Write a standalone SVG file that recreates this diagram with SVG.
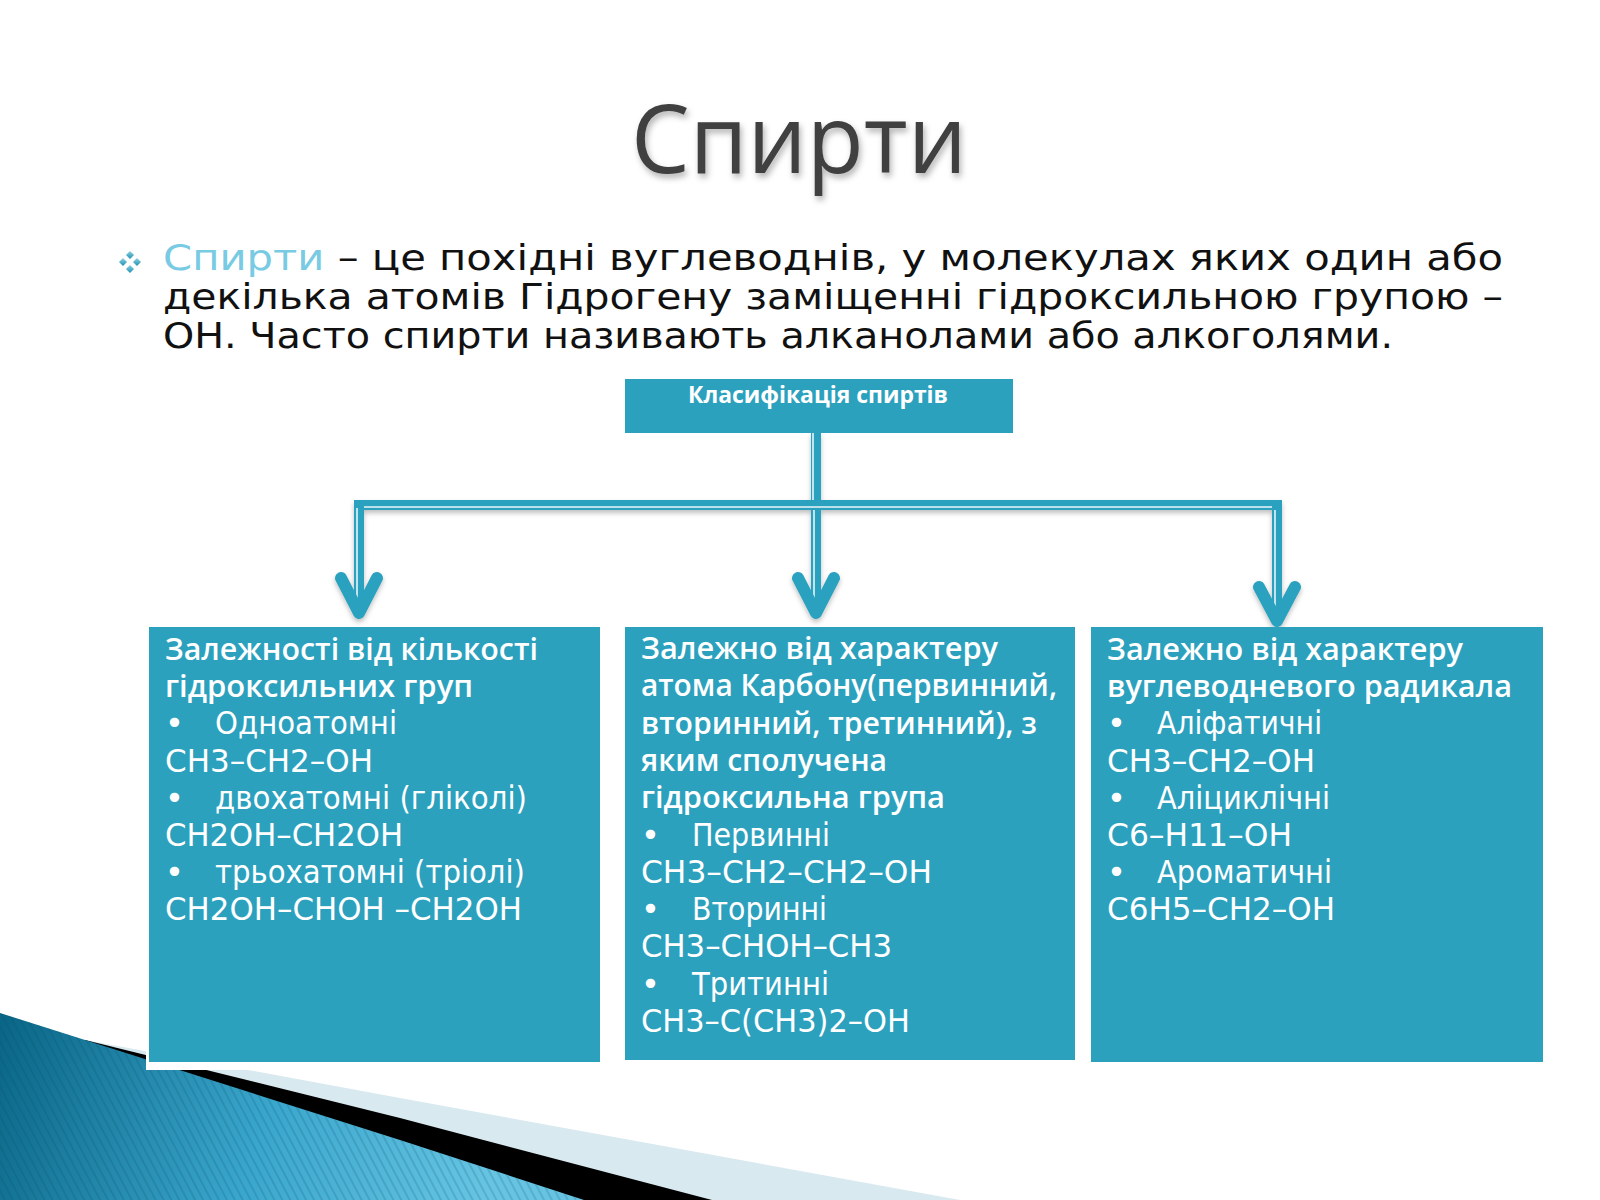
<svg xmlns="http://www.w3.org/2000/svg" width="1600" height="1200" viewBox="0 0 1600 1200">
<defs>
<style>
.box{fill:#2CA1BE}
.hdr{font-family:"Open Sans","DejaVu Sans",sans-serif;font-weight:600;font-size:30px;fill:#ffffff}
.itm{font-family:"DejaVu Sans","Liberation Sans",sans-serif;font-size:32px;fill:#ffffff}
.body{font-family:"DejaVu Sans","Liberation Sans",sans-serif;font-size:36px;fill:#111111}
.conn{stroke:#2CA1BE;stroke-width:10;fill:none}
.stripe{stroke:#e8f6fa;stroke-width:1.6;fill:none}
.chev{stroke:#2CA1BE;stroke-width:12;fill:none;stroke-linecap:round;stroke-linejoin:round}
</style>
<filter id="tsh" x="-10%" y="-10%" width="130%" height="140%">
<feDropShadow dx="2" dy="4" stdDeviation="3" flood-color="#000" flood-opacity="0.3"/>
</filter>
<filter id="csh" x="-10%" y="-20%" width="130%" height="160%">
<feDropShadow dx="0" dy="3" stdDeviation="2.5" flood-color="#000" flood-opacity="0.25"/>
</filter>
<linearGradient id="wedge" gradientUnits="userSpaceOnUse" x1="0" y1="1030" x2="480" y2="1200">
<stop offset="0" stop-color="#0A6686"/>
<stop offset="0.55" stop-color="#3AA6CC"/>
<stop offset="1" stop-color="#66C4E2"/>
</linearGradient>
<pattern id="lines" patternUnits="userSpaceOnUse" width="7" height="7" patternTransform="rotate(-28)">
<rect x="0" y="0" width="2" height="7" fill="#06506a" fill-opacity="0.18"/>
</pattern>
<linearGradient id="dia" x1="0" y1="0" x2="0" y2="1">
<stop offset="0" stop-color="#8fd3e6"/>
<stop offset="1" stop-color="#1f8fb0"/>
</linearGradient>
</defs>
<rect x="0" y="0" width="1600" height="1200" fill="#ffffff"/>

<g id="decoration">
<polygon points="85,1040 400,1098 960,1200 85,1200" fill="#D8E9F0"/>
<polygon points="85,1040 400,1118 712,1200 85,1200" fill="#000000"/>
<polygon points="0,1013 400,1140 584,1200 0,1200" fill="url(#wedge)"/>
<polygon points="0,1013 400,1140 584,1200 0,1200" fill="url(#lines)"/>
</g>

<g id="title">
<text x="631" y="173" font-family="'Open Sans','DejaVu Sans',sans-serif" font-size="95" fill="#3F3F3F" textLength="336" lengthAdjust="spacingAndGlyphs" filter="url(#tsh)">Спирти</text>
</g>

<g id="definition">
<g id="bullet-icon" fill="url(#dia)">
<polygon points="130,251 134,255 130,259 126,255"/>
<polygon points="130,265 134,269 130,273 126,269"/>
<polygon points="123,258 127,262 123,266 119,262"/>
<polygon points="137,258 141,262 137,266 133,262"/>
</g>
<text class="body" x="163" y="270" textLength="1340" lengthAdjust="spacingAndGlyphs"><tspan fill="#78CBE3">Спирти</tspan> – це похідні вуглеводнів, у молекулах яких один або</text>
<text class="body" x="163" y="309" textLength="1340" lengthAdjust="spacingAndGlyphs">декілька атомів Гідрогену заміщенні гідроксильною групою –</text>
<text class="body" x="163" y="348" textLength="1230" lengthAdjust="spacingAndGlyphs">ОН. Часто спирти називають алканолами або  алкоголями.</text>
</g>

<g id="connectors" filter="url(#csh)">
<line class="conn" x1="816" y1="433" x2="816" y2="505"/>
<line class="stripe" x1="813" y1="433" x2="813" y2="502"/>
<line class="conn" x1="355" y1="505" x2="1281" y2="505"/>
<line class="stripe" x1="355" y1="507" x2="1281" y2="507"/>
<line class="conn" x1="359" y1="500" x2="359" y2="610"/>
<line class="stripe" x1="357" y1="508" x2="357" y2="600"/>
<polyline class="chev" points="341,578 359,613 377,578"/>
<line class="conn" x1="816" y1="510" x2="816" y2="610"/>
<line class="stripe" x1="814" y1="510" x2="814" y2="600"/>
<polyline class="chev" points="798,578 816,613 834,578"/>
<line class="conn" x1="1277" y1="500" x2="1277" y2="618"/>
<line class="stripe" x1="1275" y1="510" x2="1275" y2="606"/>
<polyline class="chev" points="1259,587 1277,621 1295,587"/>
</g>

<g id="node-root">
<rect class="box" x="625" y="379" width="388" height="54"/>
<text x="818" y="403" text-anchor="middle" font-family="'Open Sans','DejaVu Sans',sans-serif" font-weight="700" font-size="24" fill="#ffffff" textLength="260" lengthAdjust="spacingAndGlyphs">Класифікація спиртів</text>
</g>

<g id="node-hydroxyl-count">
<rect x="146" y="627" width="457" height="443" fill="#ffffff"/>
<rect class="box" x="149" y="627" width="451" height="435"/>
<text class="hdr" x="165" y="660" textLength="373" lengthAdjust="spacingAndGlyphs">Залежності від кількості</text>
<text class="hdr" x="165" y="697" textLength="308" lengthAdjust="spacingAndGlyphs">гідроксильних груп</text>
<text class="itm" x="165" y="734">•</text>
<text class="itm" x="215" y="734" textLength="182" lengthAdjust="spacingAndGlyphs">Одноатомні</text>
<text class="itm" x="165" y="772" textLength="208" lengthAdjust="spacingAndGlyphs">CH3–CH2–OH</text>
<text class="itm" x="165" y="809">•</text>
<text class="itm" x="215" y="809" textLength="312" lengthAdjust="spacingAndGlyphs">двохатомні (гліколі)</text>
<text class="itm" x="165" y="846" textLength="238" lengthAdjust="spacingAndGlyphs">CH2OH–CH2OH</text>
<text class="itm" x="165" y="883">•</text>
<text class="itm" x="215" y="883" textLength="310" lengthAdjust="spacingAndGlyphs">трьохатомні (тріолі)</text>
<text class="itm" x="165" y="920" textLength="357" lengthAdjust="spacingAndGlyphs">CH2OH–CHOH –CH2OH</text>
</g>

<g id="node-carbon-type">
<rect class="box" x="625" y="627" width="450" height="433"/>
<text class="hdr" x="641" y="659" textLength="357" lengthAdjust="spacingAndGlyphs">Залежно від характеру</text>
<text class="hdr" x="641" y="696" textLength="416" lengthAdjust="spacingAndGlyphs">атома Карбону(первинний,</text>
<text class="hdr" x="641" y="734" textLength="396" lengthAdjust="spacingAndGlyphs">вторинний, третинний), з</text>
<text class="hdr" x="641" y="771" textLength="246" lengthAdjust="spacingAndGlyphs">яким сполучена</text>
<text class="hdr" x="641" y="808" textLength="304" lengthAdjust="spacingAndGlyphs">гідроксильна група</text>
<text class="itm" x="641" y="846">•</text>
<text class="itm" x="692" y="846" textLength="138" lengthAdjust="spacingAndGlyphs">Первинні</text>
<text class="itm" x="641" y="883" textLength="291" lengthAdjust="spacingAndGlyphs">CH3–CH2–CH2–OH</text>
<text class="itm" x="641" y="920">•</text>
<text class="itm" x="692" y="920" textLength="135" lengthAdjust="spacingAndGlyphs">Вторинні</text>
<text class="itm" x="641" y="957" textLength="251" lengthAdjust="spacingAndGlyphs">CH3–CHOH–CH3</text>
<text class="itm" x="641" y="995">•</text>
<text class="itm" x="692" y="995" textLength="137" lengthAdjust="spacingAndGlyphs">Тритинні</text>
<text class="itm" x="641" y="1032" textLength="269" lengthAdjust="spacingAndGlyphs">CH3–C(CH3)2–OH</text>
</g>

<g id="node-radical-type">
<rect class="box" x="1091" y="627" width="452" height="435"/>
<text class="hdr" x="1107" y="660" textLength="356" lengthAdjust="spacingAndGlyphs">Залежно від характеру</text>
<text class="hdr" x="1107" y="697" textLength="405" lengthAdjust="spacingAndGlyphs">вуглеводневого радикала</text>
<text class="itm" x="1107" y="734">•</text>
<text class="itm" x="1157" y="734" textLength="165" lengthAdjust="spacingAndGlyphs">Аліфатичні</text>
<text class="itm" x="1107" y="772" textLength="208" lengthAdjust="spacingAndGlyphs">CH3–CH2–OH</text>
<text class="itm" x="1107" y="809">•</text>
<text class="itm" x="1157" y="809" textLength="173" lengthAdjust="spacingAndGlyphs">Аліциклічні</text>
<text class="itm" x="1107" y="846" textLength="185" lengthAdjust="spacingAndGlyphs">C6–H11–OH</text>
<text class="itm" x="1107" y="883">•</text>
<text class="itm" x="1157" y="883" textLength="175" lengthAdjust="spacingAndGlyphs">Ароматичні</text>
<text class="itm" x="1107" y="920" textLength="228" lengthAdjust="spacingAndGlyphs">C6H5–CH2–OH</text>
</g>
</svg>
